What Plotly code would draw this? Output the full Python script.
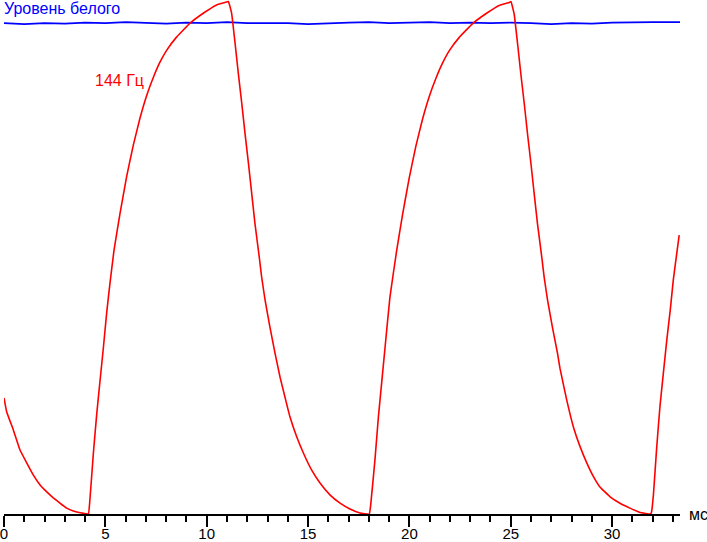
import plotly.graph_objects as go

# время, мс и яркость (% от уровня белого)
red_t = [0.00, 0.13, 0.46, 0.79, 1.12, 1.45, 1.78, 2.11, 2.43, 2.76, 3.09, 3.42, 3.83, 4.16,
         4.24, 4.41, 4.57, 4.74, 4.90, 5.07, 5.23, 5.43, 5.72, 6.05, 6.38, 6.71, 7.04, 7.37,
         7.70, 8.03, 8.52, 9.18, 9.83, 10.49, 10.99, 11.07,
         11.23, 11.40, 11.56, 11.73, 11.89, 12.06, 12.22, 12.38, 12.60, 12.71, 12.88, 13.12,
         13.37, 13.62, 13.86, 14.11, 14.44, 14.77, 15.18, 15.59, 16.08, 16.58, 17.07, 17.56, 18.02,
         18.09, 18.30, 18.47, 18.63, 18.80, 19.04, 19.37, 19.66, 19.99, 20.32, 20.65, 20.98,
         21.31, 21.64, 21.97, 22.46, 23.12, 23.77, 24.43, 24.93, 25.01,
         25.17, 25.34, 25.50, 25.67, 25.83, 26.00, 26.16, 26.32, 26.54, 26.65, 26.82, 27.06,
         27.31, 27.43, 27.76, 28.09, 28.42, 28.75, 29.08, 29.40, 29.90, 30.39, 30.88, 31.38, 31.90,
         31.95, 32.04, 32.20, 32.36, 32.53, 32.70, 32.87, 33.02, 33.19, 33.31]
red_v = [23.6, 20.8, 17.1, 13.0, 10.4, 7.9, 5.9, 4.5, 3.3, 2.2, 1.2, 0.6, 0.2, 0.0,
         3.0, 12.4, 20.1, 27.2, 33.7, 41.1, 47.0, 53.7, 61.0, 68.6, 75.0, 80.5, 85.1, 88.8,
         91.9, 94.3, 97.0, 99.8, 101.8, 103.5, 104.1, 104.2,
         101.8, 95.7, 89.6, 83.5, 77.4, 71.3, 65.2, 59.1, 52.0, 48.2, 43.5, 38.0,
         32.7, 27.8, 23.8, 19.7, 15.7, 12.4, 8.9, 6.3, 3.9, 2.2, 1.0, 0.2, 0.0,
         1.8, 11.0, 19.7, 26.6, 33.9, 44.1, 53.5, 60.8, 68.3, 74.8, 80.3, 84.9,
         88.6, 91.7, 94.2, 96.9, 99.7, 101.7, 103.4, 104.0, 104.2,
         101.6, 95.5, 89.4, 83.3, 77.2, 71.1, 65.0, 59.0, 51.9, 48.1, 43.4, 37.9,
         32.6, 29.6, 23.2, 17.7, 13.7, 10.4, 7.6, 5.5, 3.5, 2.2, 1.2, 0.3, 0.0,
         0.5, 4.0, 13.5, 21.8, 28.7, 35.4, 41.5, 47.6, 53.0, 56.7]

blue_t = [0, 1, 2, 3, 4, 5, 6, 7, 8, 9, 10, 11, 12, 13, 14, 15, 16, 17, 18, 19, 20, 21,
          22, 23, 24, 25, 26, 27, 28, 29, 30, 31, 32, 33, 33.35]
blue_v = [99.8, 99.6, 99.8, 99.7, 99.9, 99.8, 100.0, 99.8, 99.7, 99.9, 99.8, 100.0, 99.8,
          99.8, 99.8, 99.6, 99.8, 99.9, 100.0, 99.8, 99.9, 100.0, 99.8, 99.9, 99.8, 99.9,
          99.8, 99.6, 99.8, 99.7, 99.9, 100.0, 100.0, 100.0, 100.0]

x_ticks = [0, 5, 10, 15, 20, 25, 30]

fig = go.Figure()
fig.add_trace(go.Scatter(x=blue_t, y=blue_v, mode="lines", line=dict(color="#0000ff", width=1.6),
                         hoverinfo="skip"))
fig.add_trace(go.Scatter(x=red_t, y=red_v, mode="lines",
                         line=dict(color="#ff0000", width=1.6, shape="spline", smoothing=0.3),
                         hoverinfo="skip"))

fig.add_annotation(x=0, y=102.8, xref="x", yref="y", text="Уровень белого", showarrow=False,
                   xanchor="left", yanchor="middle", font=dict(color="#0000ff", size=16), xshift=-2)
fig.add_annotation(x=5.72, y=88.2, xref="x", yref="y", text="144 Гц", showarrow=False,
                   xanchor="center", yanchor="middle", font=dict(color="#ff0000", size=16))
fig.add_annotation(x=1.027, y=0, xref="paper", yref="paper", text="мс", showarrow=False,
                   xanchor="center", yanchor="middle", font=dict(color="#000000", size=16))

fig.update_xaxes(range=[0, 33.35], tickvals=x_ticks, ticks="outside", ticklen=11, tickwidth=1.5,
                 tickcolor="black", showline=True, linecolor="black", linewidth=1.5,
                 showgrid=False, zeroline=False, tickfont=dict(size=15, color="black"),
                 automargin=False, ticklabeloverflow="allow", ticklabelstandoff=-6,
                 minor=dict(dtick=1, tick0=0, ticks="outside", ticklen=6, tickwidth=1.5,
                            tickcolor="black", showgrid=False))
fig.update_yaxes(range=[0, 104.5], visible=False, showgrid=False, zeroline=False)
fig.update_layout(width=707, height=542, margin=dict(l=4, r=27, t=0, b=28),
                  paper_bgcolor="white", plot_bgcolor="white", showlegend=False,
                  font=dict(family="Liberation Sans, Arial, sans-serif"))
fig.write_html("out.html", config={"displayModeBar": False},
               post_script="document.body.style.margin='0';")
